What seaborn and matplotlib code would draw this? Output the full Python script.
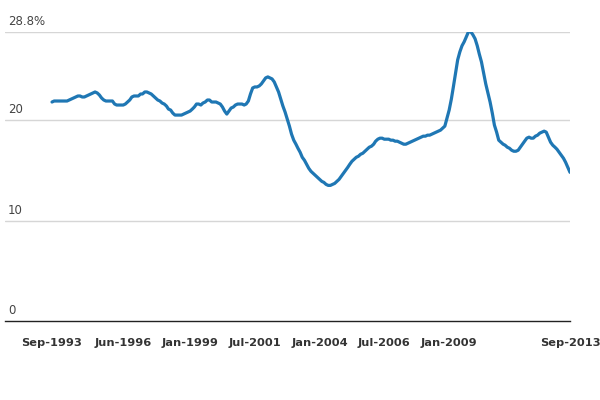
import numpy as np
import pandas as pd
import matplotlib
matplotlib.use("Agg")
import matplotlib.pyplot as plt
import matplotlib.dates as mdates
import seaborn as sns

# monthly values, Sep-1993 .. Sep-2013 (%)
v1993 = [21.8, 21.9, 21.9, 21.9]
v1994 = [21.9, 21.9, 21.9, 21.9, 22.0, 22.1, 22.2, 22.3, 22.4, 22.4, 22.3, 22.3]
v1995 = [22.4, 22.5, 22.6, 22.7, 22.8, 22.7, 22.5, 22.2, 22.0, 21.9, 21.9, 21.9]
v1996 = [21.9, 21.6, 21.5, 21.5, 21.5, 21.5, 21.6, 21.8, 22.0, 22.3, 22.4, 22.4]
v1997 = [22.4, 22.6, 22.6, 22.8, 22.8, 22.7, 22.6, 22.4, 22.2, 22.0, 21.9, 21.7]
v1998 = [21.6, 21.4, 21.1, 21.0, 20.7, 20.5, 20.5, 20.5, 20.5, 20.6, 20.7, 20.8]
v1999 = [20.9, 21.1, 21.3, 21.6, 21.6, 21.5, 21.7, 21.8, 22.0, 22.0, 21.8, 21.8]
v2000 = [21.8, 21.7, 21.6, 21.3, 20.9, 20.6, 20.9, 21.2, 21.3, 21.5, 21.6, 21.6]
v2001 = [21.6, 21.5, 21.6, 21.9, 22.6, 23.2, 23.3, 23.3, 23.4, 23.6, 23.9, 24.2]
v2002 = [24.3, 24.2, 24.1, 23.8, 23.3, 22.8, 22.1, 21.4, 20.8, 20.1, 19.4, 18.6]
v2003 = [18.0, 17.6, 17.2, 16.8, 16.3, 16.0, 15.6, 15.2, 14.9, 14.7, 14.5, 14.3]
v2004 = [14.1, 13.9, 13.8, 13.6, 13.5, 13.5, 13.6, 13.7, 13.9, 14.1, 14.4, 14.7]
v2005 = [15.0, 15.3, 15.6, 15.9, 16.1, 16.3, 16.4, 16.6, 16.7, 16.9, 17.1, 17.3]
v2006 = [17.4, 17.6, 17.9, 18.1, 18.2, 18.2, 18.1, 18.1, 18.1, 18.0, 18.0, 17.9]
v2007 = [17.9, 17.8, 17.7, 17.6, 17.6, 17.7, 17.8, 17.9, 18.0, 18.1, 18.2, 18.3]
v2008 = [18.4, 18.4, 18.5, 18.5, 18.6, 18.7, 18.8, 18.9, 19.0, 19.2, 19.4, 20.2]
v2009 = [21.0, 22.1, 23.3, 24.7, 26.0, 26.8, 27.4, 27.8, 28.3, 28.8, 28.8, 28.5]
v2010 = [28.1, 27.4, 26.6, 25.8, 24.7, 23.6, 22.7, 21.8, 20.7, 19.5, 18.8, 18.0]
v2011 = [17.8, 17.6, 17.5, 17.3, 17.2, 17.0, 16.9, 16.9, 17.0, 17.3, 17.6, 17.9]
v2012 = [18.2, 18.3, 18.2, 18.2, 18.4, 18.5, 18.7, 18.8, 18.9, 18.8, 18.3, 17.8]
v2013 = [17.5, 17.3, 17.1, 16.8, 16.5, 16.2, 15.8, 15.3, 14.8]

tick_dates = ["1993-09-01", "1996-06-01", "1999-01-01", "2001-07-01",
              "2004-01-01", "2006-07-01", "2009-01-01", "2013-09-01"]
y_ticks = [0, 10, 20, 28.8]
y_labels = ["0", "10", "20", "28.8%"]

values = (v1993 + v1994 + v1995 + v1996 + v1997 + v1998 + v1999 + v2000 + v2001
          + v2002 + v2003 + v2004 + v2005 + v2006 + v2007 + v2008 + v2009
          + v2010 + v2011 + v2012 + v2013)
df = pd.DataFrame({"date": pd.date_range("1993-09-01", periods=len(values), freq="MS"),
                   "value": values})

sns.set_style("white")
plt.rcParams["font.family"] = ["DejaVu Sans"]

fig = plt.figure(figsize=(6, 4), dpi=100)
ax = fig.add_axes([5 / 600, 1 - 321 / 400, 565 / 600, (321 - 31.7) / 400])

sns.lineplot(data=df, x="date", y="value", ax=ax, color="#1f77b4", linewidth=2.3)

start = pd.Timestamp("1993-09-01")
ax.set_xlim(start - pd.Timedelta(days=663), pd.Timestamp("2013-09-01"))
ax.set_ylim(0, 28.8)

for yt in y_ticks[1:]:
    ax.axhline(yt, color="#d6d6d6", linewidth=1, zorder=0)
for yt, lab in zip(y_ticks, y_labels):
    ax.text(0.005, yt + 0.4, lab, transform=ax.get_yaxis_transform(),
            ha="left", va="bottom", fontsize=8.5, color="#444444")

ax.set_yticks([])
ax.set_xticks([pd.Timestamp(d) for d in tick_dates])
ax.xaxis.set_major_formatter(mdates.DateFormatter("%b-%Y"))
ax.tick_params(axis="x", length=0, pad=12, labelsize=8.2, labelcolor="#333333")
for t in ax.get_xticklabels():
    t.set_fontweight("bold")
ax.set_xlabel("")
ax.set_ylabel("")

for s in ["top", "right", "left"]:
    ax.spines[s].set_visible(False)
ax.spines["bottom"].set_color("#222222")
ax.spines["bottom"].set_linewidth(1)

fig.savefig("out.png", dpi=100)
